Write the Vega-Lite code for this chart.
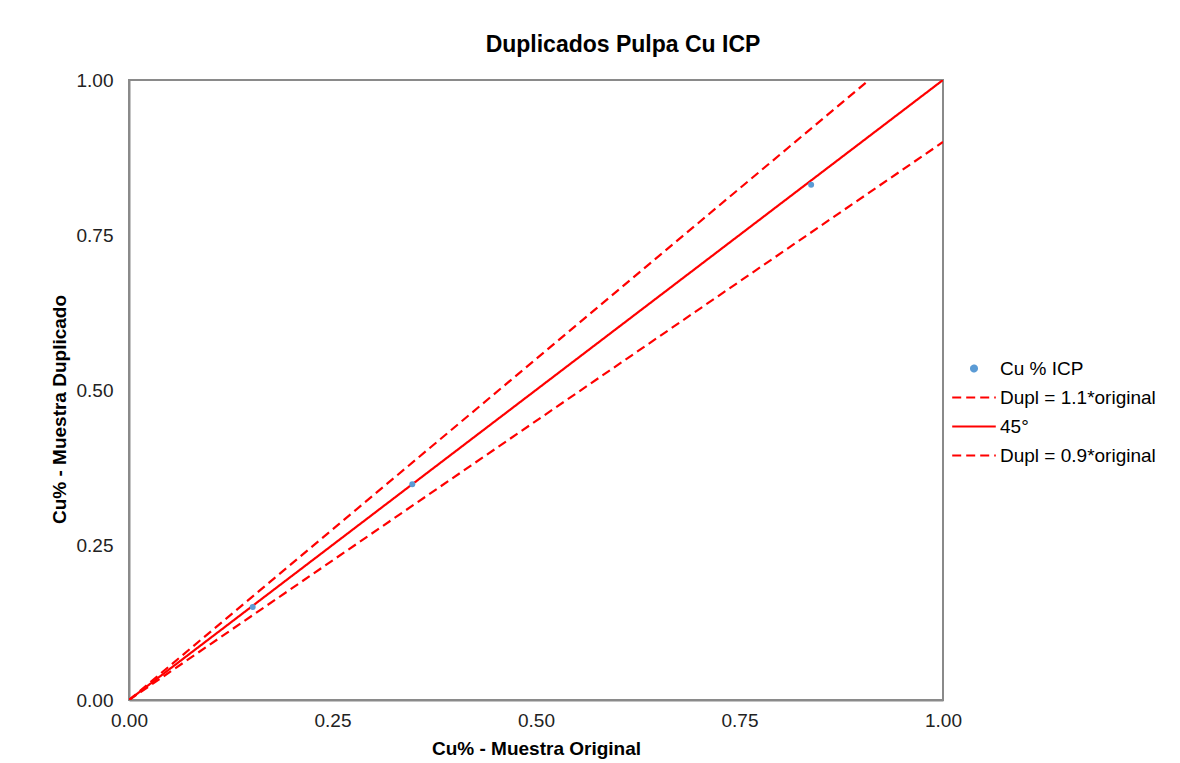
{
  "$schema": "https://vega.github.io/schema/vega-lite/v6.json",
  "width": 814,
  "height": 620,
  "autosize": {"type": "none"},
  "padding": {"left": 129, "top": 80, "right": 237, "bottom": 63},
  "background": "white",
  "title": {
    "text": "Duplicados Pulpa Cu ICP",
    "font": "Liberation Sans",
    "fontSize": 23,
    "fontWeight": "bold",
    "color": "#000000",
    "anchor": "middle",
    "dx": 87,
    "offset": 14
  },
  "config": {
    "view": {"stroke": "#8a8a8a", "strokeWidth": 2},
    "font": "Liberation Sans",
    "axis": {
      "grid": false,
      "ticks": false,
      "labelFlush": false,
      "domainColor": "#8a8a8a",
      "domainWidth": 2,
      "labelFont": "Liberation Sans",
      "labelFontSize": 19,
      "labelColor": "#222222",
      "titleFont": "Liberation Sans",
      "titleFontSize": 19,
      "titleFontWeight": "bold",
      "titleColor": "#000000"
    }
  },
  "datasets": {
    "pts": [
      {"orig": 0.152, "dup": 0.150, "series": "Cu % ICP"},
      {"orig": 0.348, "dup": 0.348, "series": "Cu % ICP"},
      {"orig": 0.838, "dup": 0.831, "series": "Cu % ICP"}
    ],
    "lines": [
      {"orig": 0, "dup": 0, "series": "Dupl = 1.1*original"},
      {"orig": 0.9091, "dup": 1.0, "series": "Dupl = 1.1*original"},
      {"orig": 0, "dup": 0, "series": "45°"},
      {"orig": 1, "dup": 1, "series": "45°"},
      {"orig": 0, "dup": 0, "series": "Dupl = 0.9*original"},
      {"orig": 1, "dup": 0.9, "series": "Dupl = 0.9*original"}
    ]
  },
  "encoding": {
    "x": {
      "field": "orig", "type": "quantitative",
      "scale": {"domain": [0, 1], "nice": false, "zero": true},
      "axis": {"values": [0, 0.25, 0.5, 0.75, 1], "format": ".2f", "labelPadding": 11, "title": "Cu%  - Muestra Original", "titlePadding": 9}
    },
    "y": {
      "field": "dup", "type": "quantitative",
      "scale": {"domain": [0, 1], "nice": false, "zero": true},
      "axis": {"values": [0, 0.25, 0.5, 0.75, 1], "format": ".2f", "labelPadding": 16, "title": "Cu% - Muestra Duplicado", "titlePadding": 7, "titleY": 329}
    }
  },
  "layer": [
    {
      "data": {"name": "lines"},
      "mark": {"type": "line", "strokeWidth": 2.2, "clip": true},
      "encoding": {
        "color": {
          "field": "series", "type": "nominal",
          "scale": {"domain": ["Cu % ICP", "Dupl = 1.1*original", "45°", "Dupl = 0.9*original"], "range": ["#5b9bd5", "#ff0000", "#ff0000", "#ff0000"]},
          "legend": {
            "title": null,
            "orient": "none",
            "legendX": 822,
            "legendY": 274,
            "labelFont": "Liberation Sans",
            "labelFontSize": 19,
            "labelColor": "#000000",
            "symbolStrokeWidth": 2.2,
            "symbolSize": 1900,
            "rowPadding": 0,
            "clipHeight": 29,
            "labelOffset": 3,
            "encode": {"symbols": {"update": {"size": {"signal": "datum.value === 'Cu % ICP' ? 34 : 1900"}}}}
          }
        },
        "strokeDash": {
          "field": "series", "type": "nominal",
          "scale": {"domain": ["Cu % ICP", "Dupl = 1.1*original", "45°", "Dupl = 0.9*original"], "range": [[1, 0], [9, 5], [1, 0], [9, 5]]},
          "legend": null
        }
      }
    },
    {
      "data": {"name": "pts"},
      "mark": {"type": "point", "filled": true, "size": 36, "opacity": 1},
      "encoding": {
        "color": {"field": "series", "type": "nominal"},
        "shape": {
          "field": "series", "type": "nominal",
          "scale": {"domain": ["Cu % ICP", "Dupl = 1.1*original", "45°", "Dupl = 0.9*original"], "range": ["circle", "stroke", "stroke", "stroke"]},
          "legend": null
        }
      }
    }
  ]
}
